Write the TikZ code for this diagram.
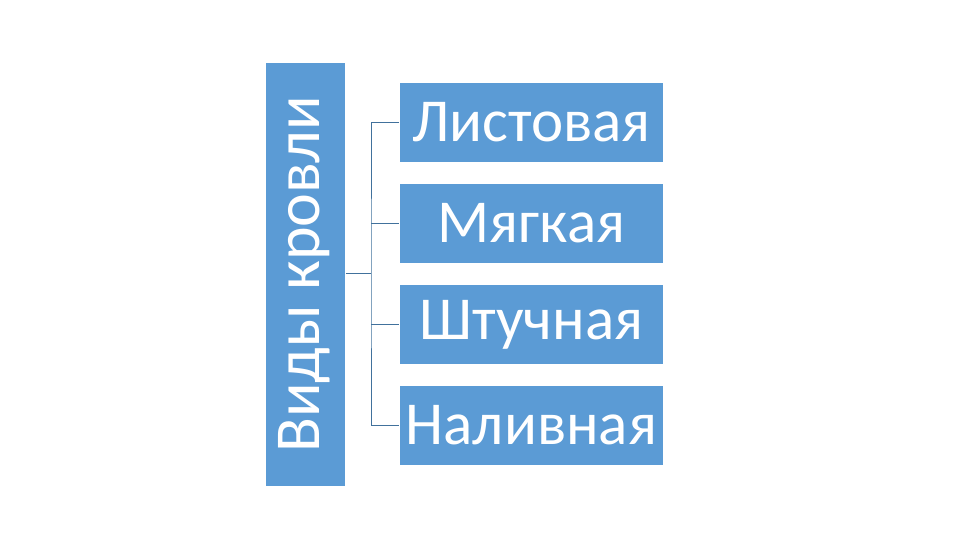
\documentclass[tikz,border=0pt]{standalone}
\usepackage{fontspec}
\setmainfont{Carlito}
\definecolor{boxblue}{HTML}{5B9BD5}
\definecolor{linec}{HTML}{41719C}
\begin{document}
\begin{tikzpicture}[x=1pt,y=-1pt,
  itembox/.style={fill=boxblue,draw=white,line width=0.8pt,minimum width=264pt,minimum height=80pt,inner sep=0pt,text=white,font=\fontsize{61}{61}\selectfont},
  conn/.style={draw=linec,line width=0.9pt}]
\useasboundingbox (0,0) rectangle (960,540);
\node[fill=boxblue,draw=white,line width=0.8pt,minimum width=80pt,minimum height=424pt,inner sep=0pt,anchor=north west] (main) at (265,62) {};
\node[rotate=90,text=white,font=\fontsize{64}{64}\selectfont] (mtext) at ([xshift=-1pt]main.center) {Виды кровли};
\node[itembox,anchor=north west] (b1) at (399,82) {Листовая};
\node[itembox,anchor=north west] (b2) at (399,183) {Мягкая};
\node[itembox,anchor=north west] (b3) at (399,284) {Штучная};
\node[itembox,anchor=north west] (b4) at (399,385) {Наливная};
\coordinate (j) at (371,273);
\draw[conn] (main.east |- j) -- (j);
\draw[conn] (b1.west) -| (j) |- (b4.west);
\draw[conn] (j |- b2.west) -- (b2.west);
\draw[conn] (j |- b3.west) -- (b3.west);
\end{tikzpicture}
\end{document}
